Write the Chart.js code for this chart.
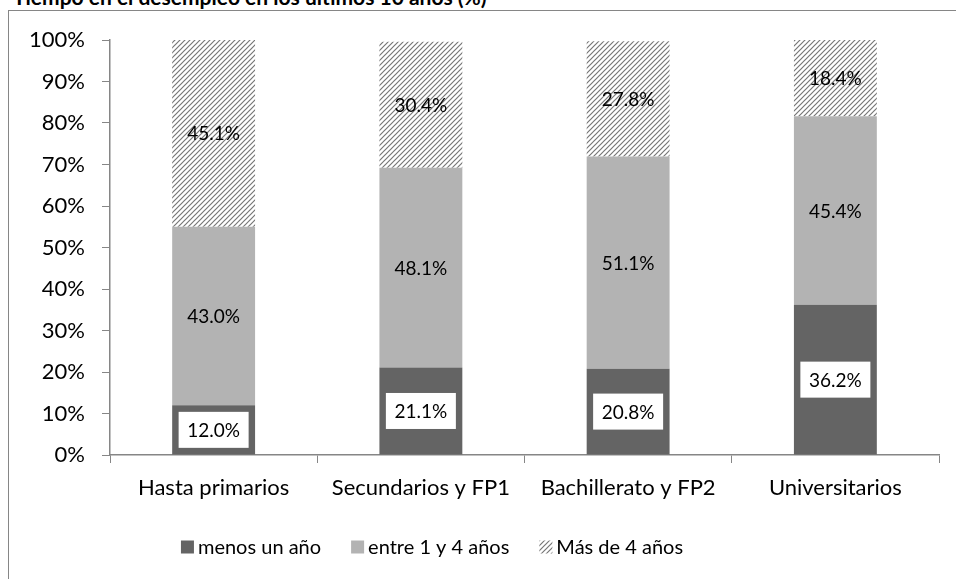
<!DOCTYPE html>
<html>
<head>
<meta charset="utf-8">
<script src="https://cdn.jsdelivr.net/npm/chart.js@4.4.1/dist/chart.umd.min.js"></script>
<style>
html, body { margin: 0; padding: 0; background: #fff; overflow: hidden; }
#frame { position: absolute; left: 8px; top: 10px; width: 1000px; height: 1000px; border: 1px solid #868686; }
#title { position: absolute; left: 13px; top: -13px; font: bold 21px Lato, sans-serif; line-height: 20px; color: #000; white-space: nowrap; }
#wrap { position: absolute; left: 0; top: 0; width: 956px; height: 579px; }
</style>
</head>
<body>
<div id="frame"></div>
<div id="title">Tiempo en el desempleo en los últimos 10 años (%)</div>
<div id="wrap"><canvas id="chart" width="956" height="579"></canvas></div>
<script>
// data
const categories = ['Hasta primarios', 'Secundarios y FP1', 'Bachillerato y FP2', 'Universitarios'];
const seriesNames = ['menos un año', 'entre 1 y 4 años', 'Más de 4 años'];
const menosUnAno = [12.0, 21.1, 20.8, 36.2];
const entre1y4 = [43.0, 48.1, 51.1, 45.4];
const masDe4 = [45.1, 30.4, 27.8, 18.4];

const FONT = 'Lato, "Open Sans", sans-serif';
const AXIS_COLOR = '#868686';

// Excel-like "wide upward diagonal" fill
function makeHatch() {
    var size = 5;
    var c = document.createElement('canvas');
    c.width = size;
    c.height = size;
    var g = c.getContext('2d');
    g.fillStyle = '#fff';
    g.fillRect(0, 0, size, size);
    g.strokeStyle = '#767676';
    g.lineWidth = 1.2;
    g.beginPath();
    g.moveTo(0, size); g.lineTo(size, 0);
    g.moveTo(-1, 1); g.lineTo(1, -1);
    g.moveTo(size - 1, size + 1); g.lineTo(size + 1, size - 1);
    g.stroke();
    return g.createPattern(c, 'repeat');
}

// percentage labels in the middle of each segment
const valueLabels = {
    id: 'valueLabels',
    afterDatasetsDraw(chart) {
        const ctx = chart.ctx;
        ctx.save();
        ctx.font = '19px ' + FONT;
        ctx.textAlign = 'center';
        ctx.textBaseline = 'middle';
        chart.data.datasets.forEach((ds, i) => {
            chart.getDatasetMeta(i).data.forEach((bar, j) => {
                const y = (bar.y + bar.base) / 2;
                const txt = ds.data[j].toFixed(1) + '%';
                if (i === 0) {
                    ctx.fillStyle = '#fff';
                    ctx.fillRect(bar.x - 35, y - 18, 70, 36);
                }
                ctx.fillStyle = '#000';
                ctx.fillText(txt, bar.x, y + 1);
            });
        });
        ctx.restore();
    }
};

// legend drawn by hand so it can sit where the original one is
const bottomLegend = {
    id: 'bottomLegend',
    afterDraw(chart) {
        const ctx = chart.ctx;
        const centerX = 432, centerY = 547, box = 13, textOffset = 17, gapItem = 30;
        ctx.save();
        ctx.font = '20px ' + FONT;
        ctx.textBaseline = 'middle';
        const items = chart.data.datasets.map(ds => ({ text: ds.label, fill: ds.backgroundColor, w: ctx.measureText(ds.label).width }));
        let total = 0;
        items.forEach((it, i) => { total += textOffset + it.w + (i < items.length - 1 ? gapItem : 0); });
        let x = centerX - total / 2;
        items.forEach(it => {
            ctx.fillStyle = it.fill;
            ctx.fillRect(x, centerY - box / 2, box, box);
            ctx.fillStyle = '#000';
            ctx.fillText(it.text, x + textOffset, centerY + 1);
            x += textOffset + it.w + gapItem;
        });
        ctx.restore();
    }
};

function createChart() {
    const ctx = document.getElementById('chart');
    new Chart(ctx, {
        type: 'bar',
        data: {
            labels: categories,
            datasets: [
                { label: seriesNames[0], data: menosUnAno, backgroundColor: '#646464' },
                { label: seriesNames[1], data: entre1y4, backgroundColor: '#b3b3b3' },
                { label: seriesNames[2], data: masDe4, backgroundColor: makeHatch() }
            ]
        },
        options: {
            responsive: false,
            animation: false,
            events: [],
            layout: { padding: { left: 0, right: 17, top: 40, bottom: 0 } },
            datasets: { bar: { categoryPercentage: 1, barPercentage: 0.4, borderWidth: 0 } },
            plugins: {
                legend: { display: false },
                tooltip: { enabled: false },
                title: { display: false }
            },
            scales: {
                x: {
                    stacked: true,
                    grid: { offset: true, drawOnChartArea: false, drawTicks: true, tickLength: 8, color: AXIS_COLOR },
                    border: { color: AXIS_COLOR, width: 1.5 },
                    ticks: { color: '#000', font: { family: FONT, size: 22 }, padding: 12, maxRotation: 0 },
                    afterFit(scale) { scale.height = 124; }
                },
                y: {
                    stacked: true,
                    min: 0,
                    max: 100,
                    grid: { drawOnChartArea: false, drawTicks: true, tickLength: 8, color: AXIS_COLOR },
                    border: { color: AXIS_COLOR, width: 1.5 },
                    ticks: {
                        stepSize: 10,
                        color: '#000',
                        font: { family: FONT, size: 22 },
                        padding: 17,
                        callback: v => v + '%'
                    },
                    afterFit(scale) { scale.width = 110; }
                }
            }
        },
        plugins: [valueLabels, bottomLegend]
    });
}

document.fonts.load('22px Lato').then(createChart, createChart);
</script>
</body>
</html>
